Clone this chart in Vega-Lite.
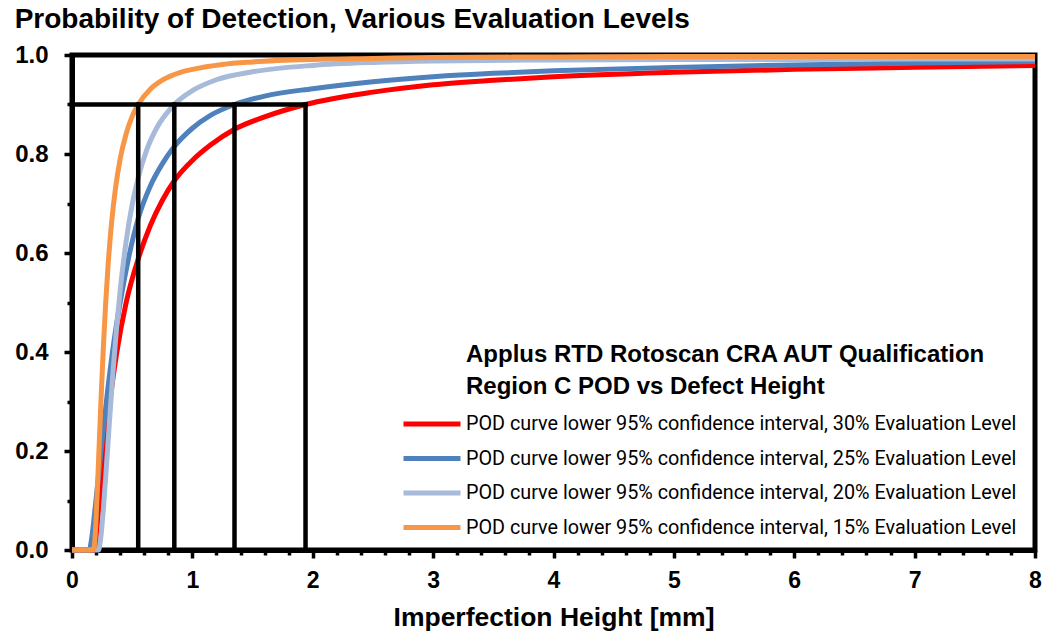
{
  "$schema": "https://vega.github.io/schema/vega-lite/v6.json",
  "width": 963,
  "height": 495,
  "autosize": {"type": "none"},
  "padding": {"left": 72, "top": 55, "right": 7, "bottom": 85},
  "background": "white",
  "title": {
    "text": "Probability of Detection, Various Evaluation Levels",
    "anchor": "start",
    "frame": "bounds",
    "font": "Liberation Sans",
    "fontSize": 28,
    "fontWeight": "bold",
    "color": "black",
    "offset": 9
  },
  "config": {
    "view": {"stroke": "black", "strokeWidth": 5},
    "axis": {
      "grid": false,
      "domainColor": "black",
      "domainWidth": 5,
      "tickColor": "black",
      "tickWidth": 3.5,
      "labelFont": "Liberation Sans",
      "labelFontSize": 23,
      "labelFontWeight": "bold",
      "labelColor": "black",
      "labelFlush": false,
      "labelOverlap": false,
      "titleFont": "Liberation Sans",
      "titleFontWeight": "bold",
      "titleColor": "black"
    },
    "legend": {
      "orient": "none",
      "legendX": 394,
      "legendY": 288,
      "padding": 0,
      "titleFont": "Liberation Sans",
      "titleFontSize": 24,
      "titleFontWeight": "bold",
      "titleColor": "black",
      "titleLineHeight": 32,
      "titleLimit": 800,
      "titlePadding": 8,
      "symbolType": "M-2,0H2",
      "symbolSize": 812,
      "symbolStrokeWidth": 5,
      "symbolOffset": -51,
      "rowPadding": 7.5,
      "labelOffset": 17,
      "labelFont": "Roboto",
      "labelFontSize": 19.8,
      "labelColor": "black",
      "labelLimit": 800
    }
  },
  "encoding": {
    "x": {
      "field": "x",
      "type": "quantitative",
      "scale": {"domain": [0, 8], "nice": false, "zero": false},
      "axis": {
        "title": "Imperfection Height [mm]",
        "titleFontSize": 26.5,
        "titlePadding": 12,
        "labelPadding": 11,
        "values": [0, 0.2, 0.4, 0.6, 0.8, 1, 1.2, 1.4, 1.6, 1.8, 2, 2.2, 2.4, 2.6, 2.8, 3, 3.2, 3.4, 3.6, 3.8, 4, 4.2, 4.4, 4.6, 4.8, 5, 5.2, 5.4, 5.6, 5.8, 6, 6.2, 6.4, 6.6, 6.8, 7, 7.2, 7.4, 7.6, 7.8, 8],
        "labelExpr": "abs(datum.value - round(datum.value)) < 0.001 ? format(datum.value, 'd') : ''",
        "tickSize": {"condition": {"test": "abs(datum.value - round(datum.value)) < 0.001", "value": 8}, "value": 5}
      }
    },
    "y": {
      "field": "pod",
      "type": "quantitative",
      "scale": {"domain": [0, 1], "nice": false},
      "axis": {
        "title": null,
        "labelFontSize": 24,
        "labelPadding": 16,
        "values": [0, 0.1, 0.2, 0.3, 0.4, 0.5, 0.6, 0.7, 0.8, 0.9, 1],
        "labelExpr": "round(datum.value * 10) % 2 === 0 ? format(datum.value, '.1f') : ''",
        "tickSize": {"condition": {"test": "round(datum.value * 10) % 2 === 0", "value": 8}, "value": 5}
      }
    }
  },
  "layer": [
    {
      "data": {
        "values": [
          {"lv": "30%", "x": 0, "pod": 0}, {"lv": "30%", "x": 0.19, "pod": 0}, {"lv": "30%", "x": 0.2, "pod": 0.023}, {"lv": "30%", "x": 0.21, "pod": 0.049}, {"lv": "30%", "x": 0.23, "pod": 0.104}, {"lv": "30%", "x": 0.25, "pod": 0.156}, {"lv": "30%", "x": 0.28, "pod": 0.228}, {"lv": "30%", "x": 0.32, "pod": 0.31}, {"lv": "30%", "x": 0.37, "pod": 0.396}, {"lv": "30%", "x": 0.45, "pod": 0.5}, {"lv": "30%", "x": 0.55, "pod": 0.588}, {"lv": "30%", "x": 0.65, "pod": 0.655}, {"lv": "30%", "x": 0.75, "pod": 0.706}, {"lv": "30%", "x": 0.85, "pod": 0.746}, {"lv": "30%", "x": 1.0, "pod": 0.787}, {"lv": "30%", "x": 1.15, "pod": 0.818}, {"lv": "30%", "x": 1.35, "pod": 0.85}, {"lv": "30%", "x": 1.6, "pod": 0.875}, {"lv": "30%", "x": 1.94, "pod": 0.9}, {"lv": "30%", "x": 2.5, "pod": 0.925}, {"lv": "30%", "x": 3, "pod": 0.94}, {"lv": "30%", "x": 3.5, "pod": 0.949}, {"lv": "30%", "x": 4, "pod": 0.956}, {"lv": "30%", "x": 5, "pod": 0.965}, {"lv": "30%", "x": 6, "pod": 0.971}, {"lv": "30%", "x": 7, "pod": 0.975}, {"lv": "30%", "x": 8, "pod": 0.979},

          {"lv": "25%", "x": 0, "pod": 0}, {"lv": "25%", "x": 0.145, "pod": 0}, {"lv": "25%", "x": 0.155, "pod": 0.01}, {"lv": "25%", "x": 0.165, "pod": 0.026}, {"lv": "25%", "x": 0.185, "pod": 0.068}, {"lv": "25%", "x": 0.205, "pod": 0.114}, {"lv": "25%", "x": 0.245, "pod": 0.21}, {"lv": "25%", "x": 0.295, "pod": 0.32}, {"lv": "25%", "x": 0.345, "pod": 0.415}, {"lv": "25%", "x": 0.4, "pod": 0.5}, {"lv": "25%", "x": 0.47, "pod": 0.59}, {"lv": "25%", "x": 0.55, "pod": 0.67}, {"lv": "25%", "x": 0.65, "pod": 0.735}, {"lv": "25%", "x": 0.75, "pod": 0.78}, {"lv": "25%", "x": 0.85, "pod": 0.815}, {"lv": "25%", "x": 1.0, "pod": 0.852}, {"lv": "25%", "x": 1.15, "pod": 0.878}, {"lv": "25%", "x": 1.35, "pod": 0.9}, {"lv": "25%", "x": 1.6, "pod": 0.917}, {"lv": "25%", "x": 2, "pod": 0.932}, {"lv": "25%", "x": 2.5, "pod": 0.946}, {"lv": "25%", "x": 3, "pod": 0.956}, {"lv": "25%", "x": 3.5, "pod": 0.963}, {"lv": "25%", "x": 4, "pod": 0.968}, {"lv": "25%", "x": 5, "pod": 0.975}, {"lv": "25%", "x": 6, "pod": 0.98}, {"lv": "25%", "x": 7, "pod": 0.984}, {"lv": "25%", "x": 8, "pod": 0.987},

          {"lv": "20%", "x": 0, "pod": 0}, {"lv": "20%", "x": 0.22, "pod": 0}, {"lv": "20%", "x": 0.23, "pod": 0.009}, {"lv": "20%", "x": 0.24, "pod": 0.027}, {"lv": "20%", "x": 0.26, "pod": 0.081}, {"lv": "20%", "x": 0.28, "pod": 0.148}, {"lv": "20%", "x": 0.31, "pod": 0.256}, {"lv": "20%", "x": 0.34, "pod": 0.358}, {"lv": "20%", "x": 0.37, "pod": 0.448}, {"lv": "20%", "x": 0.4, "pod": 0.524}, {"lv": "20%", "x": 0.45, "pod": 0.624}, {"lv": "20%", "x": 0.5, "pod": 0.698}, {"lv": "20%", "x": 0.55, "pod": 0.752}, {"lv": "20%", "x": 0.62, "pod": 0.808}, {"lv": "20%", "x": 0.7, "pod": 0.851}, {"lv": "20%", "x": 0.85, "pod": 0.9}, {"lv": "20%", "x": 1.0, "pod": 0.928}, {"lv": "20%", "x": 1.2, "pod": 0.95}, {"lv": "20%", "x": 1.5, "pod": 0.966}, {"lv": "20%", "x": 2, "pod": 0.979}, {"lv": "20%", "x": 2.5, "pod": 0.985}, {"lv": "20%", "x": 3, "pod": 0.988}, {"lv": "20%", "x": 4, "pod": 0.99}, {"lv": "20%", "x": 5, "pod": 0.991}, {"lv": "20%", "x": 6, "pod": 0.991}, {"lv": "20%", "x": 7, "pod": 0.992}, {"lv": "20%", "x": 8, "pod": 0.992},

          {"lv": "15%", "x": 0, "pod": 0}, {"lv": "15%", "x": 0.18, "pod": 0}, {"lv": "15%", "x": 0.19, "pod": 0.021}, {"lv": "15%", "x": 0.2, "pod": 0.063}, {"lv": "15%", "x": 0.22, "pod": 0.177}, {"lv": "15%", "x": 0.24, "pod": 0.298}, {"lv": "15%", "x": 0.26, "pod": 0.407}, {"lv": "15%", "x": 0.28, "pod": 0.5}, {"lv": "15%", "x": 0.3, "pod": 0.576}, {"lv": "15%", "x": 0.33, "pod": 0.664}, {"lv": "15%", "x": 0.36, "pod": 0.728}, {"lv": "15%", "x": 0.4, "pod": 0.79}, {"lv": "15%", "x": 0.45, "pod": 0.841}, {"lv": "15%", "x": 0.5, "pod": 0.876}, {"lv": "15%", "x": 0.55, "pod": 0.9}, {"lv": "15%", "x": 0.65, "pod": 0.931}, {"lv": "15%", "x": 0.75, "pod": 0.949}, {"lv": "15%", "x": 0.9, "pod": 0.965}, {"lv": "15%", "x": 1.0, "pod": 0.971}, {"lv": "15%", "x": 1.25, "pod": 0.981}, {"lv": "15%", "x": 1.5, "pod": 0.986}, {"lv": "15%", "x": 2, "pod": 0.991}, {"lv": "15%", "x": 2.5, "pod": 0.993}, {"lv": "15%", "x": 3, "pod": 0.995}, {"lv": "15%", "x": 4, "pod": 0.996}, {"lv": "15%", "x": 5, "pod": 0.997}, {"lv": "15%", "x": 6, "pod": 0.997}, {"lv": "15%", "x": 7, "pod": 0.997}, {"lv": "15%", "x": 8, "pod": 0.997}
        ]
      },
      "mark": {"type": "line", "strokeWidth": 5, "interpolate": "monotone"},
      "encoding": {
        "color": {
          "field": "lv",
          "type": "nominal",
          "scale": {"domain": ["30%", "25%", "20%", "15%"], "range": ["#FF0000", "#4F81BD", "#A7BADA", "#F79646"]},
          "legend": {
            "title": ["Applus RTD Rotoscan CRA AUT Qualification", "Region C POD vs Defect Height"],
            "labelExpr": "'POD curve lower 95% confidence interval, ' + datum.label + ' Evaluation Level'"
          }
        }
      }
    },
    {
      "data": {
        "values": [
          {"x": 0, "x2": 1.94, "pod": 0.9, "pod2": 0.9},
          {"x": 0.55, "x2": 0.55, "pod": 0, "pod2": 0.9},
          {"x": 0.85, "x2": 0.85, "pod": 0, "pod2": 0.9},
          {"x": 1.35, "x2": 1.35, "pod": 0, "pod2": 0.9},
          {"x": 1.94, "x2": 1.94, "pod": 0, "pod2": 0.9}
        ]
      },
      "mark": {"type": "rule", "color": "black", "strokeWidth": 4.5, "strokeCap": "square"},
      "encoding": {
        "x2": {"field": "x2"},
        "y2": {"field": "pod2"}
      }
    }
  ]
}
